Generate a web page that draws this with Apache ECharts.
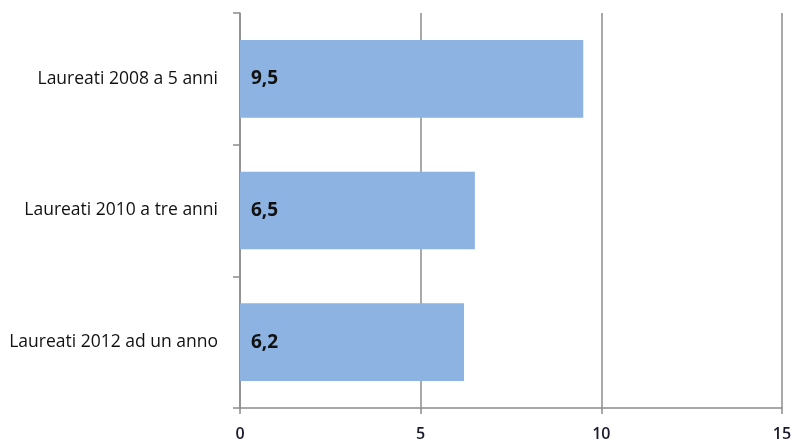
<!DOCTYPE html>
<html><head><meta charset="utf-8">
<script src="https://cdn.jsdelivr.net/npm/echarts@6/dist/echarts.min.js"></script>
<style>html,body{margin:0;padding:0;background:#fff}#c{width:796px;height:442px}</style>
</head><body><div id="c"></div>
<script>
var categories = ["Laureati 2008 a 5 anni", "Laureati 2010 a tre anni", "Laureati 2012 ad un anno"];
var values = [9.5, 6.5, 6.2];
var xTicks = [0, 5, 10, 15];

var chart = echarts.init(document.getElementById('c'));
chart.setOption({
  animation: false,
  grid: {left: 240, right: 14, top: 13, bottom: 34},
  xAxis: {
    type: 'value', min: xTicks[0], max: xTicks[xTicks.length-1], interval: 5,
    axisLine: {show: true, lineStyle: {color: '#8c8c8c', width: 1.5}},
    axisTick: {show: true, length: 6, lineStyle: {color: '#8c8c8c', width: 1.5}},
    splitLine: {show: true, lineStyle: {color: '#8c8c8c', width: 1.5}},
    axisLabel: {margin: 18, fontFamily: 'Open Sans', fontSize: 16, color: '#1a1a2e', fontWeight: 600}
  },
  yAxis: {
    type: 'category', data: categories, inverse: true,
    axisLine: {show: true, lineStyle: {color: '#8c8c8c', width: 1.5}},
    axisTick: {show: true, length: 7, lineStyle: {color: '#8c8c8c', width: 1.5}},
    axisLabel: {margin: 22, fontFamily: 'Open Sans', fontSize: 17.5, color: '#111'}
  },
  series: [{
    type: 'bar', data: values, barCategoryGap: '41%',
    itemStyle: {color: '#8db3e2'},
    label: {show: true, position: 'insideLeft', distance: 11,
      fontFamily: 'Open Sans', fontSize: 19, fontWeight: 'bold', color: '#111',
      formatter: function(p){ return String(p.value).replace('.', ','); }}
  }]
});
</script></body></html>
